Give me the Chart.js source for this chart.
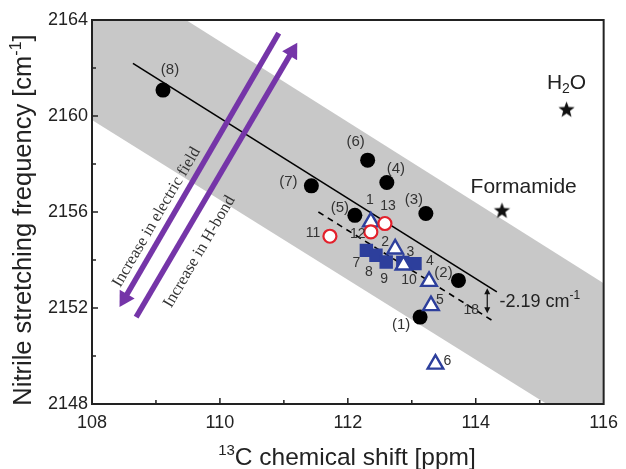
<!DOCTYPE html>
<html>
<head>
<meta charset="utf-8">
<script src="https://cdn.jsdelivr.net/npm/chart.js@4.4.1/dist/chart.umd.min.js"></script>
<style>
  html, body { margin: 0; padding: 0; background: #fff; }
</style>
</head>
<body>
<canvas id="chart" width="626" height="469"></canvas>
<script>
// --- data ---
const blackX = [113.13, 113.73, 113.22, 112.61, 112.11, 112.31, 111.43, 109.11];
const blackY = [2151.62, 2153.15, 2155.94, 2157.23, 2155.86, 2158.16, 2157.09, 2161.08];
const blackLabels = ['(1)', '(2)', '(3)', '(4)', '(5)', '(6)', '(7)', '(8)'];

const triX = [112.36, 112.74, 112.87, 113.30, 113.37, 113.27];
const triY = [2155.59, 2154.46, 2153.79, 2152.10, 2149.66, 2153.11];
const triLabels = ['1', '2', '3', '5', '6', '10'];

const squareX = [112.29, 112.44, 112.60, 112.86, 113.05];
const squareY = [2154.40, 2154.20, 2153.92, 2153.90, 2153.85];
const squareLabels = ['7', '8', '9', '', '4'];

const redX = [111.72, 112.36, 112.58];
const redY = [2154.99, 2155.17, 2155.52];
const redLabels = ['11', '12', '13'];

const solventX = [115.42, 114.41];
const solventY = [2160.25, 2156.04];

const fitX = [108.64, 114.33];
const fitY = [2162.19, 2152.67];
const shiftedX = [111.54, 114.30];
const shiftedY = [2156.00, 2151.41];

const bandX = [108, 116];
const bandUpper = [2166.47, 2153.03];
const bandLower = [2159.83, 2146.52];

const fieldArrowX = [110.92, 108.51];
const fieldArrowY = [2163.45, 2152.40];
const hbondArrowX = [108.69, 111.13];
const hbondArrowY = [2151.62, 2162.69];

const xTicks = [108, 110, 112, 114, 116];
const yTicks = [2148, 2152, 2156, 2160, 2164];

// label offsets in px, one per point
const blackOffsets = [[-19, 8], [-15, -8], [-12, -14], [9, -14], [-15, -8], [-12, -18], [-23, -4], [7, -20]];
const triOffsets = [[-1, -22], [-10, -7], [7, -13], [9, -5], [12, -3], [-20, -1]];
const squareOffsets = [[-10, 13], [-7, 17], [-2, 17], [0, 0], [15, -2]];
const redOffsets = [[-17, -3], [-13, 2], [3, -17]];

const PURPLE = '#7535a8';
const BLUE = '#2d3f9c';
const FONT = '"Liberation Sans", Arial, sans-serif';

const pts = (xs, ys) => xs.map((x, i) => ({ x: x, y: ys[i] }));

function makeStar(r) {
  const c = document.createElement('canvas');
  const s = Math.ceil(r * 2) + 2;
  c.width = c.height = s;
  const g = c.getContext('2d');
  g.beginPath();
  for (let i = 0; i < 10; i++) {
    const rr = i % 2 ? r * 0.42 : r;
    const a = -Math.PI / 2 + i * Math.PI / 5;
    g.lineTo(s / 2 + rr * Math.cos(a), s / 2 + rr * Math.sin(a));
  }
  g.closePath();
  g.fillStyle = '#111';
  g.fill();
  return c;
}

// draw text made of parts (for sub/superscripts)
function drawParts(ctx, parts, x, y, align) {
  let total = 0;
  parts.forEach(p => { ctx.font = p.size + 'px ' + FONT; total += ctx.measureText(p.t).width; });
  let cx = align === 'center' ? x - total / 2 : x;
  ctx.textAlign = 'left';
  parts.forEach(p => {
    ctx.font = p.size + 'px ' + FONT;
    ctx.fillText(p.t, cx, y + (p.dy || 0));
    cx += ctx.measureText(p.t).width;
  });
}

const decor = {
  id: 'decor',
  afterDatasetsDraw(chart) {
    const ctx = chart.ctx;
    const xs = chart.scales.x, ys = chart.scales.y;
    const a = chart.chartArea;
    const px = v => xs.getPixelForValue(v), py = v => ys.getPixelForValue(v);

    // point labels
    ctx.save();
    ctx.fillStyle = '#333';
    ctx.textAlign = 'center';
    ctx.textBaseline = 'middle';
    chart.data.datasets.forEach(ds => {
      if (!ds.pointLabels) return;
      ctx.font = ds.labelSize + 'px ' + FONT;
      ds.data.forEach((d, i) => {
        const o = ds.labelOffsets[i];
        ctx.fillText(ds.pointLabels[i], px(d.x) + o[0], py(d.y) + o[1]);
      });
    });

    // arrow captions
    ctx.font = '16.5px "Liberation Serif", "Times New Roman", serif';
    const ang = -59.66 * Math.PI / 180;
    [['Increase in electric field', 109.01, 2155.78], ['Increase in H-bond', 109.68, 2154.34]].forEach(n => {
      ctx.save();
      ctx.translate(px(n[1]), py(n[2]));
      ctx.rotate(ang);
      ctx.fillText(n[0], 0, 0);
      ctx.restore();
    });

    // solvent labels
    ctx.fillStyle = '#222';
    ctx.textBaseline = 'middle';
    drawParts(ctx, [{ t: 'H', size: 21 }, { t: '2', size: 14, dy: 6 }, { t: 'O', size: 21 }], px(115.42), py(2161.36), 'center');
    drawParts(ctx, [{ t: 'Formamide', size: 21 }], px(114.75), py(2157.05), 'center');

    // shift annotation
    drawParts(ctx, [{ t: '-2.19 cm', size: 18 }, { t: '-1', size: 12, dy: -6 }], px(114.37), py(2152.25), 'left');
    ctx.fillStyle = '#333';
    drawParts(ctx, [{ t: '18', size: 14 }], px(113.93), py(2151.9), 'center');

    // double-headed arrow
    const ax = px(114.18), y1 = py(2152.82), y2 = py(2151.78);
    ctx.strokeStyle = '#111';
    ctx.fillStyle = '#111';
    ctx.lineWidth = 1.2;
    ctx.beginPath(); ctx.moveTo(ax, y1 + 3); ctx.lineTo(ax, y2 - 3); ctx.stroke();
    ctx.beginPath(); ctx.moveTo(ax, y1); ctx.lineTo(ax - 3, y1 + 6); ctx.lineTo(ax + 3, y1 + 6); ctx.fill();
    ctx.beginPath(); ctx.moveTo(ax, y2); ctx.lineTo(ax - 3, y2 - 6); ctx.lineTo(ax + 3, y2 - 6); ctx.fill();

    // frame and inward ticks
    ctx.strokeStyle = '#222';
    ctx.lineWidth = 2;
    ctx.strokeRect(a.left, a.top, a.right - a.left, a.bottom - a.top);
    ctx.lineWidth = 1.5;
    ctx.beginPath();
    for (let v = 109; v < 116; v++) {
      const len = v % 2 === 0 ? 6 : 4;
      ctx.moveTo(px(v), a.bottom); ctx.lineTo(px(v), a.bottom - len);
    }
    for (let v = 2150; v < 2164; v += 2) {
      const len = v % 4 === 0 ? 6 : 4;
      ctx.moveTo(a.left, py(v)); ctx.lineTo(a.left + len, py(v));
    }
    ctx.stroke();

    // axis titles
    ctx.fillStyle = '#222';
    ctx.textBaseline = 'alphabetic';
    drawParts(ctx, [{ t: '13', size: 15, dy: -10 }, { t: 'C chemical shift [ppm]', size: 24.5 }], 347, 465, 'center');
    ctx.save();
    ctx.translate(31, 220);
    ctx.rotate(-Math.PI / 2);
    drawParts(ctx, [{ t: 'Nitrile stretching frequency [cm', size: 25.5 }, { t: '-1', size: 16, dy: -10 }, { t: ']', size: 25.5 }], 0, 0, 'center');
    ctx.restore();
    ctx.restore();
  }
};

new Chart(document.getElementById('chart').getContext('2d'), {
  type: 'line',
  data: {
    datasets: [
      {
        data: pts(redX, redY), showLine: false, order: 0,
        pointStyle: 'circle', pointRadius: 6.5, pointBackgroundColor: '#fff',
        pointBorderColor: '#e3202b', pointBorderWidth: 2.2,
        pointLabels: redLabels, labelOffsets: redOffsets, labelSize: 14
      },
      {
        data: pts(triX, triY), showLine: false, order: 1,
        pointStyle: 'triangle', pointRadius: 9, pointBackgroundColor: '#fff',
        pointBorderColor: BLUE, pointBorderWidth: 2.4,
        pointLabels: triLabels, labelOffsets: triOffsets, labelSize: 14
      },
      {
        data: pts(squareX, squareY), showLine: false, order: 2,
        pointStyle: 'rect', pointRadius: 9.5, pointBackgroundColor: BLUE,
        pointBorderColor: BLUE, pointBorderWidth: 0,
        pointLabels: squareLabels, labelOffsets: squareOffsets, labelSize: 14
      },
      {
        data: pts(blackX, blackY), showLine: false, order: 3,
        pointStyle: 'circle', pointRadius: 7.5, pointBackgroundColor: '#000',
        pointBorderColor: '#000', pointBorderWidth: 0,
        pointLabels: blackLabels, labelOffsets: blackOffsets, labelSize: 15
      },
      {
        data: pts(solventX, solventY), showLine: false, order: 3,
        pointStyle: makeStar(8.5), pointRadius: 8
      },
      {
        data: pts(fieldArrowX, fieldArrowY), order: 4,
        borderColor: PURPLE, borderWidth: 5.5, fill: false,
        pointStyle: 'triangle', pointRadius: [0, 10], pointRotation: [0, 210.6],
        pointBackgroundColor: PURPLE, pointBorderWidth: 0
      },
      {
        data: pts(hbondArrowX, hbondArrowY), order: 4,
        borderColor: PURPLE, borderWidth: 5.5, fill: false,
        pointStyle: 'triangle', pointRadius: [0, 10], pointRotation: [0, 30.6],
        pointBackgroundColor: PURPLE, pointBorderWidth: 0
      },
      {
        data: pts(fitX, fitY), order: 5,
        borderColor: '#000', borderWidth: 1.6, pointRadius: 0, fill: false
      },
      {
        data: pts(shiftedX, shiftedY), order: 5,
        borderColor: '#000', borderWidth: 1.6, borderDash: [6, 5], pointRadius: 0, fill: false
      },
      {
        data: pts(bandX, bandUpper), order: 10,
        borderWidth: 0, pointRadius: 0, fill: false
      },
      {
        data: pts(bandX, bandLower), order: 10,
        borderWidth: 0, pointRadius: 0, fill: '-1', backgroundColor: '#c8c8c8'
      }
    ]
  },
  options: {
    responsive: false,
    animation: false,
    devicePixelRatio: 1,
    layout: { padding: { top: 20, right: 18, left: 0, bottom: 0 } },
    plugins: { legend: { display: false }, tooltip: { enabled: false } },
    scales: {
      x: {
        type: 'linear', min: 108, max: 116,
        afterBuildTicks: s => { s.ticks = xTicks.map(v => ({ value: v })); },
        afterFit: s => { s.height = 65; },
        grid: { display: false, drawTicks: false },
        border: { display: false },
        ticks: { padding: 8, color: '#222', font: { family: FONT, size: 18 }, callback: v => String(v) }
      },
      y: {
        type: 'linear', min: 2148, max: 2164,
        afterBuildTicks: s => { s.ticks = yTicks.map(v => ({ value: v })); },
        afterFit: s => { s.width = 92; },
        grid: { display: false, drawTicks: false },
        border: { display: false },
        ticks: { padding: 4, color: '#222', font: { family: FONT, size: 18 }, callback: v => String(v) }
      }
    }
  },
  plugins: [decor]
});
</script>
</body>
</html>
